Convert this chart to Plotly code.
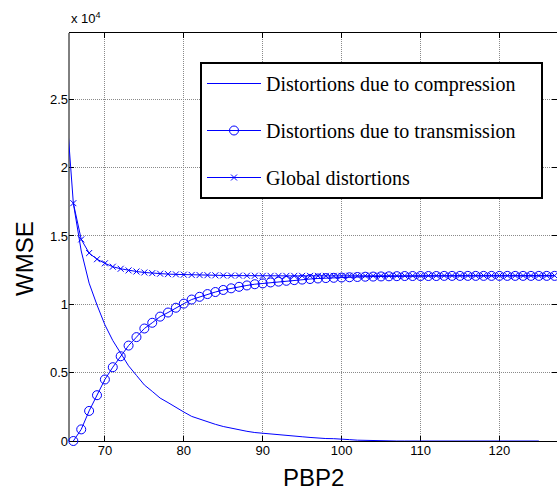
import plotly.graph_objects as go

# PBP2 values
pbp2_compression = list(range(65, 126))
pbp2_transmission = list(range(66, 128))
pbp2_global = list(range(66, 128))

# WMSE values
wmse_compression = [
    25200, 17400, 13900, 11550, 9950, 8500, 7350, 6400, 5500, 4800,
    4100, 3630, 3140, 2810, 2440, 2120, 1800, 1590, 1380, 1220,
    1060, 930, 820, 710, 620, 560, 550, 470, 410, 360,
    310, 260, 200, 180, 170, 160, 100, 60, 40, 20,
    0, 0, 0, 0, 0, 0, 0, 0, 0, 0,
    0, 0, 0, 0, 0, 0, 0, 0, 0, 0, 0,
]
wmse_transmission = [
    0, 850, 2200, 3350, 4500, 5400, 6200, 6980, 7600, 8230,
    8650, 9100, 9400, 9750, 10050, 10350, 10550, 10750, 10900, 11050,
    11170, 11280, 11380, 11470, 11530, 11600, 11660, 11720, 11770, 11810,
    11850, 11890, 11920, 11940, 11960, 11980, 12000, 12020, 12030, 12040,
    12050, 12060, 12070, 12070, 12070, 12070, 12070, 12080, 12080, 12080,
    12080, 12080, 12080, 12080, 12080, 12080, 12080, 12080, 12080, 12080,
    12080, 12080,
]
wmse_global = [
    17400, 14750, 13750, 13300, 13000, 12750, 12600, 12480, 12400, 12330,
    12280, 12240, 12210, 12190, 12170, 12150, 12140, 12130, 12120, 12110,
    12100, 12100, 12090, 12090, 12080, 12080, 12080, 12080, 12080, 12080,
    12080, 12080, 12080, 12080, 12080, 12090, 12090, 12090, 12090, 12090,
    12090, 12090, 12090, 12090, 12090, 12100, 12100, 12100, 12100, 12100,
    12100, 12100, 12100, 12100, 12100, 12100, 12100, 12100, 12100, 12100,
    12100, 12100,
]

y_tickvals = [0, 5000, 10000, 15000, 20000, 25000]
y_ticktext = ["0", "0.5", "1", "1.5", "2", "2.5"]
x_tickvals = [70, 80, 90, 100, 110, 120]

names = ["Distortions due to compression", "Distortions due to transmission", "Global distortions"]

BLUE = "#0000ff"
W, H = 557, 491
L, R, T, B = 69, 0, 33, 50
pw, ph = W - L - R, H - T - B

fig = go.Figure()
fig.add_trace(go.Scatter(
    x=pbp2_compression, y=wmse_compression, mode="lines",
    name=names[0] + "\u00a0" * 4,
    line=dict(color=BLUE, width=1), legendgroup="a",
))
fig.add_trace(go.Scatter(
    x=pbp2_transmission, y=wmse_transmission, mode="lines+markers", name=names[1],
    line=dict(color=BLUE, width=1), legendgroup="b", cliponaxis=False,
    marker=dict(symbol="circle-open", size=9, color=BLUE, line=dict(width=1, color=BLUE)),
))
fig.add_trace(go.Scatter(
    x=pbp2_global, y=wmse_global, mode="lines+markers", name=names[2],
    line=dict(color=BLUE, width=1), legendgroup="c", cliponaxis=False,
    marker=dict(symbol="x-thin-open", size=6, color=BLUE, line=dict(width=1, color=BLUE)),
))

axis_font = dict(family="Liberation Sans, Arial, sans-serif", size=13, color="black")
grid_style = dict(showgrid=True, gridcolor="#8a8a8a", griddash="1px,1px", gridwidth=1)
fig.update_layout(
    width=W, height=H,
    margin=dict(l=L, r=R, t=T, b=B, pad=0, autoexpand=False),
    paper_bgcolor="white", plot_bgcolor="white",
    showlegend=True,
    legend=dict(
        x=(200 - L) / pw, y=(H - B - 62) / ph, xanchor="left", yanchor="top",
        bgcolor="white", bordercolor="black", borderwidth=2,
        font=dict(family="Liberation Serif, Times New Roman, serif", size=20, color="black"),
        tracegroupgap=18, itemwidth=54,
    ),
    xaxis=dict(
        range=[65.45, 127.3], tickvals=x_tickvals, ticks="inside", ticklen=5,
        tickcolor="black", showline=True, linecolor="black", linewidth=1,
        mirror="ticks", zeroline=False, tickfont=axis_font, layer="below traces",
        ticklabelstandoff=-3, **grid_style,
    ),
    yaxis=dict(
        range=[0, 29850], tickvals=y_tickvals, ticktext=y_ticktext, ticks="inside",
        ticklen=5, tickcolor="black", showline=False, mirror="ticks",
        zeroline=False, tickfont=axis_font, layer="below traces", **grid_style,
    ),
    shapes=[dict(type="line", xref="paper", yref="paper", x0=0, x1=0, y0=0, y1=1,
                 line=dict(color="black", width=1), layer="below")],
    annotations=[
        dict(text="PBP2", xref="paper", yref="paper", x=0.5, y=(H - B - 478) / ph,
             xanchor="center", yanchor="middle", showarrow=False,
             font=dict(family="Liberation Sans, Arial, sans-serif", size=24, color="black")),
        dict(text="WMSE", xref="paper", yref="paper", x=(24 - L) / pw, y=(H - B - 259) / ph,
             xanchor="center", yanchor="middle", showarrow=False, textangle=-90,
             font=dict(family="Liberation Sans, Arial, sans-serif", size=24, color="black")),
        dict(text="x 10<sup>4</sup>", xref="paper", yref="paper", x=0, y=(H - B - 18) / ph,
             xanchor="left", yanchor="middle", showarrow=False,
             font=dict(family="Liberation Sans, Arial, sans-serif", size=13, color="black")),
    ],
)

fig.write_html("out.html")
